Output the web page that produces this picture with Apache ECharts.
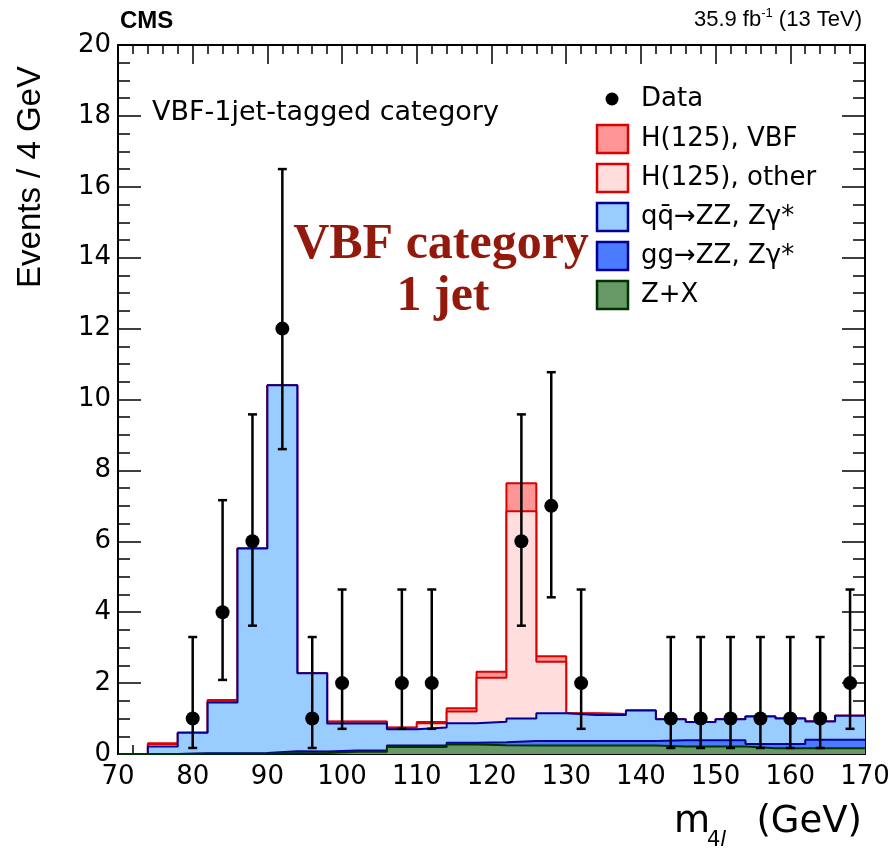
<!DOCTYPE html>
<html><head><meta charset="utf-8">
<script src="https://cdn.jsdelivr.net/npm/echarts@6/dist/echarts.min.js"></script>
<style>html,body{margin:0;padding:0;background:#fff}#c{width:894px;height:851px}</style>
</head><body><div id="c"></div>
<script>
// ---- data ----
const binEdges = [70,74,78,82,86,90,94,98,102,106,110,114,118,122,126,130,134,138,142,146,150,154,158,162,166,170];
const dataCounts = [0,0,1,4,6,12,1,2,0,2,2,0,0,6,7,2,0,0,1,1,1,1,1,1,2];
const dataErrLow = [null,null,0.17,2.09,3.62,8.6,0.17,0.71,null,0.71,0.71,null,null,3.62,4.42,0.71,null,null,0.17,0.17,0.17,0.17,0.17,0.17,0.71];
const dataErrHigh = [null,null,3.30,7.16,9.58,16.5,3.30,4.64,null,4.64,4.64,null,null,9.58,10.77,4.64,null,null,3.30,3.30,3.30,3.30,3.30,3.30,4.64];
const zxValues    = [0,0,0.01,0.01,0.01,0.02,0.03,0.06,0.06,0.20,0.20,0.27,0.25,0.24,0.24,0.24,0.24,0.24,0.21,0.21,0.21,0.16,0.16,0.16,0.16];
const ggValues    = [0,0,0.01,0.01,0.02,0.06,0.04,0.04,0.04,0.04,0.04,0.05,0.08,0.13,0.13,0.13,0.13,0.13,0.18,0.18,0.18,0.12,0.12,0.24,0.24];
const qqValues    = [0,0.21,0.58,1.43,5.77,10.32,2.21,0.76,0.76,0.46,0.51,0.55,0.58,0.63,0.78,0.73,0.73,0.86,0.59,0.51,0.59,0.78,0.72,0.52,0.68];
const hOtherValues= [0,0.07,0,0.05,0,0,0,0.05,0.05,0.04,0.12,0.33,1.24,5.85,1.45,0.04,0.03,0,0,0,0,0,0,0,0];
const hVbfValues  = [0,0.02,0,0.02,0,0,0,0.01,0.01,0.01,0.03,0.09,0.17,0.79,0.16,0.01,0,0,0,0,0,0,0,0,0];
const yTicks = [0,2,4,6,8,10,12,14,16,18,20];
const xTicks = [70,80,90,100,110,120,130,140,150,160,170];
const legendLabels = ['Data','H(125), VBF','H(125), other','qq\u0304\u2192ZZ, Z\u03b3*','gg\u2192ZZ, Z\u03b3*','Z+X'];

// ---- build ----
const nb = dataCounts.length;
const comps = [zxValues, ggValues, qqValues, hOtherValues, hVbfValues];
const cum = [];
let run = new Array(nb).fill(0);
comps.forEach(c => { run = run.map((v,i)=>v + c[i]); cum.push(run.slice()); });
const stepData = arr => arr.map((v,i)=>[binEdges[i], v]).concat([[binEdges[nb], arr[nb-1]]]);
const centers = dataCounts.map((_,i)=>(binEdges[i]+binEdges[i+1])/2);
const pts = [], errs = [];
dataCounts.forEach((n,i)=>{ if(n>0){ pts.push([centers[i], n]); errs.push([centers[i], dataErrLow[i], dataErrHigh[i]]); } });

const fills = ['#669966','#4b7bff','#99ccff','#ffdddd','#ff9696'];
const lines = ['#003300','#000099','#000099','#dd0000','#dd0000'];
const names = ['Z+X','gg\u2192ZZ','qq\u2192ZZ','H(125), other','H(125), VBF'];

const stackSeries = [];
for (let k = comps.length-1; k >= 0; k--) {
  stackSeries.push({
    type:'line', name:names[k], data: stepData(cum[k]), step:'end',
    symbol:'none', showSymbol:false, xAxisIndex:0, yAxisIndex:0,
    lineStyle:{color:lines[k], width:2},
    areaStyle:{color:fills[k], opacity:1},
    z: 2 + (comps.length-1-k), silent:true
  });
}

const axisFont = {fontFamily:'DejaVu Sans', fontSize:26, color:'#000'};
const chart = echarts.init(document.getElementById('c'), null, {renderer:'canvas'});
const grid = {left:118, right:29, top:45, bottom:97};
const baseX = {type:'value', min:70, max:170, interval:10, splitLine:{show:false},
  axisLine:{show:true, onZero:false, lineStyle:{color:'#000', width:2}},
  axisTick:{show:true, inside:true, length:19, lineStyle:{color:'#000', width:1.5}},
  minorTick:{show:true, splitNumber:5, length:9, lineStyle:{color:'#000', width:1.5}}};
const baseY = {type:'value', min:0, max:20, interval:2, splitLine:{show:false},
  axisLine:{show:true, onZero:false, lineStyle:{color:'#000', width:2}},
  axisTick:{show:true, inside:true, length:23, lineStyle:{color:'#000', width:1.5}},
  minorTick:{show:true, splitNumber:4, length:12, lineStyle:{color:'#000', width:1.5}}};

const option = {
  animation:false,
  grid: grid,
  xAxis:[
    Object.assign({}, baseX, {position:'bottom', axisLabel:Object.assign({margin:10, formatter:v=>xTicks.includes(v)?String(v):''}, axisFont)}),
    Object.assign({}, baseX, {position:'top', axisLabel:{show:false}})
  ],
  yAxis:[
    Object.assign({}, baseY, {position:'left', axisLabel:Object.assign({margin:7, formatter:v=>yTicks.includes(v)?String(v):''}, axisFont)}),
    Object.assign({}, baseY, {position:'right', axisLabel:{show:false}})
  ],
  series: stackSeries.concat([
    {type:'custom', name:'err', xAxisIndex:0, yAxisIndex:0, z:20, silent:true,
     data: errs, encode:{x:0, y:[1,2]},
     renderItem:(params, api)=>{
       const x = api.value(0), lo = api.value(1), hi = api.value(2);
       const a = api.coord([x, lo]), b = api.coord([x, hi]);
       const st = {stroke:'#000', lineWidth:2.5};
       return {type:'group', children:[
         {type:'line', shape:{x1:a[0], y1:a[1], x2:b[0], y2:b[1]}, style:st},
         {type:'line', shape:{x1:a[0]-4.5, y1:a[1], x2:a[0]+4.5, y2:a[1]}, style:st},
         {type:'line', shape:{x1:b[0]-4.5, y1:b[1], x2:b[0]+4.5, y2:b[1]}, style:st}
       ]};
     }},
    {type:'scatter', name:'Data', data: pts, symbol:'circle', symbolSize:14, z:21, silent:true,
     itemStyle:{color:'#000', opacity:1}}
  ]),
  graphic: []
};

// header texts
const g = option.graphic;
g.push({type:'text', left:120, top:9, style:{text:'CMS', fontFamily:'Liberation Sans', fontWeight:'bold', fontSize:24, fill:'#000'}});
g.push({type:'text', x:862, y:31, style:{
  text:'{n|35.9 fb}{s|-1}{n| (13 TeV)}', align:'right', verticalAlign:'bottom',
  rich:{n:{fontFamily:'Liberation Sans', fontSize:22, fill:'#000', lineHeight:24, verticalAlign:'bottom'},
        s:{fontFamily:'Liberation Sans', fontSize:13, fill:'#000', verticalAlign:'top', lineHeight:24}}}});
// axis titles
g.push({type:'text', x:31, y:177, rotation:Math.PI/2, style:{text:'Events / 4 GeV', fontFamily:'Liberation Sans', fontSize:33, fill:'#000', align:'center', verticalAlign:'middle'}});
g.push({type:'text', x:862, y:841, style:{text:'(GeV)', fontFamily:'DejaVu Sans', fontSize:37, fill:'#000', align:'right', verticalAlign:'bottom'}});
g.push({type:'text', x:674, y:841, style:{text:'m', fontFamily:'DejaVu Sans', fontSize:37, fill:'#000', align:'left', verticalAlign:'bottom'}});
g.push({type:'text', x:707, y:851, style:{text:'{a|4}{b|l}', align:'left', verticalAlign:'bottom',
  rich:{a:{fontFamily:'DejaVu Sans', fontSize:21, fill:'#000'}, b:{fontFamily:'DejaVu Sans', fontStyle:'italic', fontSize:21, fill:'#000'}}}});
// category label
g.push({type:'text', x:152, y:113, style:{text:'VBF-1jet-tagged category', fontFamily:'DejaVu Sans', fontSize:27, fill:'#000', align:'left', verticalAlign:'middle'}});
// overlay annotation
g.push({type:'text', x:441, y:245, z:30, style:{text:'VBF category', fontFamily:'Liberation Serif', fontWeight:'bold', fontSize:50, fill:'#921a0c', align:'center', verticalAlign:'middle'}});
g.push({type:'text', x:443, y:297, z:30, style:{text:'1 jet', fontFamily:'Liberation Serif', fontWeight:'bold', fontSize:50, fill:'#921a0c', align:'center', verticalAlign:'middle'}});
// legend
const rowY = [99, 139, 178, 217, 256, 295];
const legFill = ['#000','#ff9696','#ffdddd','#99ccff','#4b7bff','#669966'];
const legLine = ['#000','#dd0000','#dd0000','#000099','#000099','#003300'];
rowY.forEach((y,i)=>{
  if (i===0) {
    g.push({type:'circle', shape:{cx:612, cy:y, r:6.5}, style:{fill:'#000'}, z:25});
  } else {
    g.push({type:'rect', shape:{x:597, y:y-14, width:31, height:28}, style:{fill:legFill[i], stroke:legLine[i], lineWidth:2.5}, z:25});
  }
  g.push({type:'text', x:641, y:y, z:25, style:{text:legendLabels[i], fontFamily:'DejaVu Sans', fontSize:26, fill:'#000', align:'left', verticalAlign:'middle'}});
});

chart.setOption(option);
</script></body></html>
